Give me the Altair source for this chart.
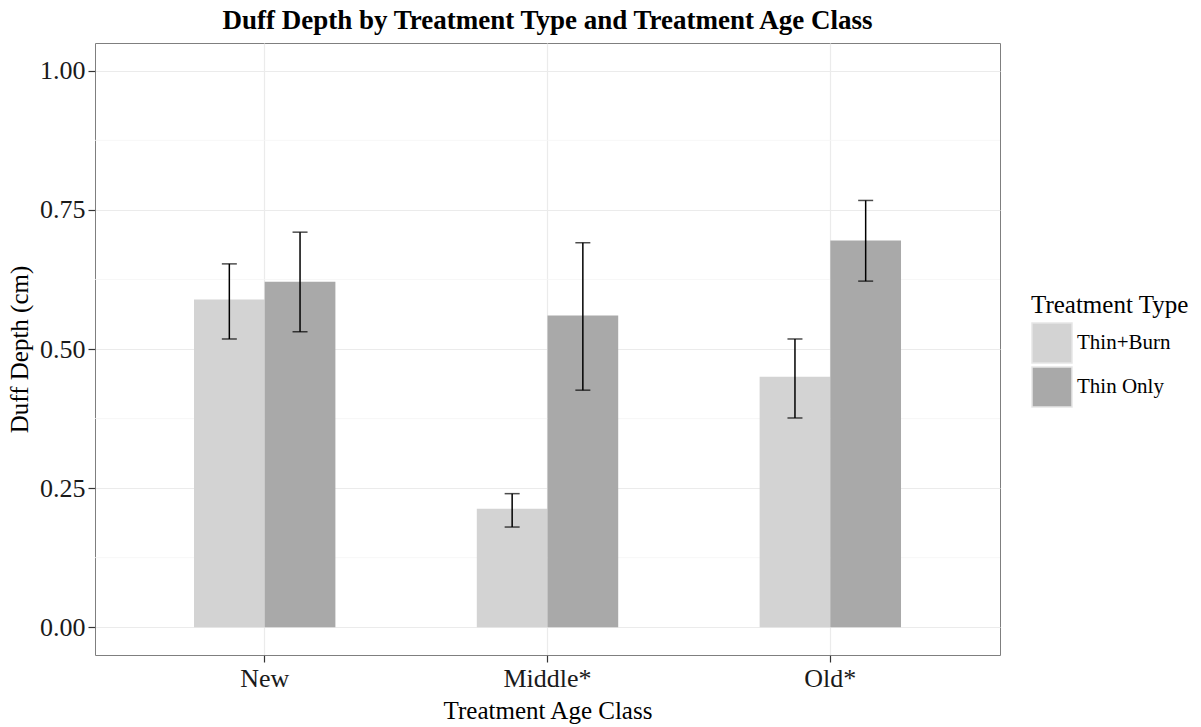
import altair as alt
import pandas as pd

# Mean duff depth (cm) with error-bar limits, per age class and treatment
age_classes = ["New", "Middle*", "Old*"]
treatment_types = ["Thin+Burn", "Thin Only"]

thin_burn_mean = [0.589, 0.213, 0.450]
thin_burn_low = [0.518, 0.180, 0.376]
thin_burn_high = [0.653, 0.240, 0.518]

thin_only_mean = [0.621, 0.560, 0.695]
thin_only_low = [0.531, 0.426, 0.622]
thin_only_high = [0.710, 0.691, 0.767]

y_breaks = [0.0, 0.25, 0.5, 0.75, 1.0]
y_minor_breaks = [0.125, 0.375, 0.625, 0.875]
fill_colors = ["#d3d3d3", "#a9a9a9"]

FONT = "Liberation Serif"

rows = []
for i, age in enumerate(age_classes):
    rows.append(dict(age=age, treatment="Thin+Burn", mean=thin_burn_mean[i],
                     low=thin_burn_low[i], high=thin_burn_high[i], base=0.0))
    rows.append(dict(age=age, treatment="Thin Only", mean=thin_only_mean[i],
                     low=thin_only_low[i], high=thin_only_high[i], base=0.0))
df = pd.DataFrame(rows)
minor_df = pd.DataFrame({"v": y_minor_breaks})

x_enc = alt.X(
    "age:N",
    sort=age_classes,
    scale=alt.Scale(paddingInner=0.5, paddingOuter=0.35),
    axis=alt.Axis(title="Treatment Age Class", labelAngle=0, bandPosition=0.5,
                  labelPadding=3, titlePadding=7),
)
xoff_enc = alt.XOffset("treatment:N", sort=treatment_types,
                       scale=alt.Scale(paddingInner=0, paddingOuter=0))
y_scale = alt.Scale(domain=[-0.05, 1.05], nice=False, zero=False)
y_axis = alt.Axis(title="Duff Depth (cm)", values=y_breaks, format=".2f",
                  labelPadding=3, titlePadding=7)

minor_grid = alt.Chart(minor_df).mark_rule(color="#f5f5f5", strokeWidth=0.8).encode(
    y=alt.Y("v:Q", scale=y_scale, axis=y_axis)
)

bars = alt.Chart(df).mark_bar().encode(
    x=x_enc,
    xOffset=xoff_enc,
    y=alt.Y("mean:Q", scale=y_scale, axis=y_axis),
    y2="base:Q",
    color=alt.Color(
        "treatment:N",
        sort=treatment_types,
        scale=alt.Scale(domain=treatment_types, range=fill_colors),
        legend=alt.Legend(
            title="Treatment Type",
            orient="none",
            legendX=936,
            legendY=250,
            symbolType="square",
            symbolSize=1600,
            symbolStrokeColor="#e6e6e6",
            symbolStrokeWidth=1.5,
            rowPadding=-10,
            labelOffset=4,
            titlePadding=4,
            titleFont=FONT,
            titleFontSize=25,
            titleFontWeight="normal",
            titleColor="black",
            labelFont=FONT,
            labelFontSize=21,
            labelColor="black",
        ),
    ),
)

whiskers = alt.Chart(df).mark_rule(color="black", strokeWidth=1.5).encode(
    x=x_enc,
    xOffset=xoff_enc,
    y=alt.Y("low:Q", scale=y_scale, axis=y_axis),
    y2="high:Q",
)

caps_high = alt.Chart(df).mark_tick(color="black", thickness=1.5, size=15).encode(
    x=x_enc,
    xOffset=xoff_enc,
    y=alt.Y("high:Q", scale=y_scale, axis=y_axis),
)
caps_low = alt.Chart(df).mark_tick(color="black", thickness=1.5, size=15).encode(
    x=x_enc,
    xOffset=xoff_enc,
    y=alt.Y("low:Q", scale=y_scale, axis=y_axis),
)

chart = (
    alt.layer(minor_grid, bars, whiskers, caps_high, caps_low)
    .properties(
        width=905,
        height=612,
        padding={"left": 95, "top": 43, "right": 201, "bottom": 72},
        autosize=alt.AutoSizeParams(type="none"),
        background="white",
        title=alt.TitleParams(
            "Duff Depth by Treatment Type and Treatment Age Class",
            font=FONT,
            fontSize=27,
            fontWeight="bold",
            color="black",
            anchor="middle",
            frame="group",
            offset=8,
        ),
    )
    .configure_view(stroke="#7f7f7f", strokeWidth=1)
    .configure_axis(
        domain=False,
        grid=True,
        gridColor="#ebebeb",
        gridWidth=1.2,
        tickColor="#333333",
        tickSize=7,
        tickWidth=1.2,
        labelFont=FONT,
        labelFontSize=26,
        labelColor="#1a1a1a",
        titleFont=FONT,
        titleFontSize=25,
        titleFontWeight="normal",
        titleColor="black",
    )
)

chart.save("out.html", embed_options={"renderer": "svg", "actions": False})
